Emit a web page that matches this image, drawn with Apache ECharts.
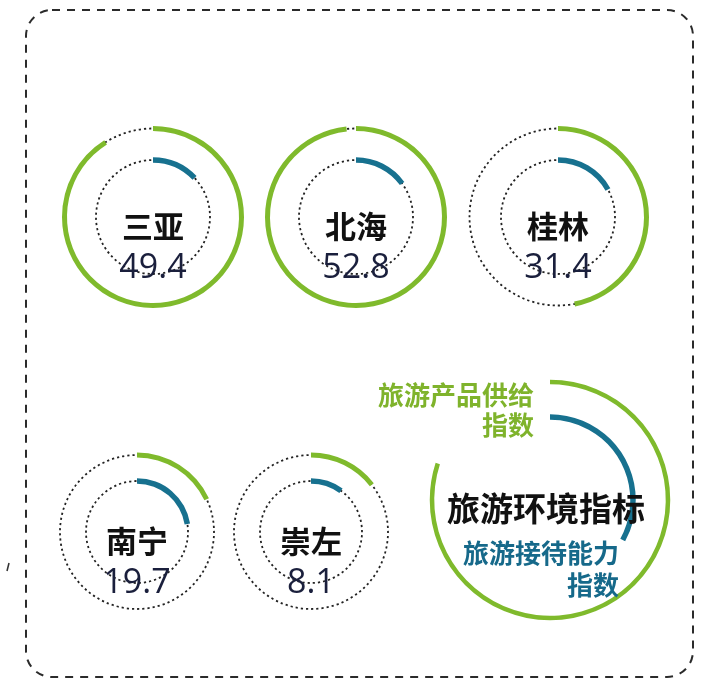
<!DOCTYPE html>
<html>
<head>
<meta charset="utf-8">
<script src="https://cdn.jsdelivr.net/npm/echarts@6/dist/echarts.min.js"></script>
<style>
  html, body { margin: 0; padding: 0; background: #fff; }
  #chart { width: 718px; height: 684px; }
</style>
</head>
<body>
<div id="chart"></div>
<script>
// data
var cities = ['三亚', '北海', '桂林', '南宁', '崇左'];
var scores = [49.4, 52.8, 31.4, 19.7, 8.1];
// share of the full ring (percent) covered by each arc
var supplyPct = [91, 98.3, 47, 18, 14.5];
var receptionPct = [13, 15, 17, 22.5, 10];
// legend ring
var legendSupplyPct = 80;
var legendReceptionPct = 33;

// layout: ring centres and radii (px)
var centers = [[153, 217], [356, 217], [558, 217], [137, 532], [311, 532]];
var outerR = [88.5, 88.5, 88.5, 77, 77];
var innerR = [57, 57, 57, 51, 51];

var GREEN = '#7fba2c';
var BLUE = '#17718f';
var DOT = '#222';

function dotted(center, r) {
  return {
    type: 'pie',
    center: center,
    radius: [0, r],
    silent: true,
    animation: false,
    z: 1,
    label: { show: false },
    labelLine: { show: false },
    itemStyle: {
      color: 'rgba(0,0,0,0)',
      borderColor: DOT,
      borderWidth: 1.8,
      borderType: [2.2, 3]
    },
    data: [{ value: 1 }]
  };
}

function arc(center, r, width, value, color, extra) {
  var s = {
    type: 'gauge',
    center: center,
    radius: r + width / 2,
    startAngle: 90,
    endAngle: -270,
    min: 0,
    max: 100,
    silent: true,
    animation: false,
    z: 3,
    pointer: { show: false },
    axisLine: { show: false },
    axisTick: { show: false },
    splitLine: { show: false },
    axisLabel: { show: false },
    progress: { show: true, width: width, roundCap: false, itemStyle: { color: color } },
    title: { show: false },
    detail: { show: false },
    data: [{ value: value }]
  };
  if (extra) {
    for (var k in extra) s[k] = extra[k];
  }
  return s;
}

var series = [];
cities.forEach(function (name, i) {
  var c = centers[i];
  series.push(dotted(c, outerR[i]));
  series.push(dotted(c, innerR[i]));
  series.push(arc(c, outerR[i], 5, supplyPct[i], GREEN));
  series.push(arc(c, innerR[i], 5.5, receptionPct[i], BLUE, {
    data: [{ value: receptionPct[i], name: name }],
    title: {
      show: true,
      offsetCenter: [0, 9],
      fontSize: 31,
      fontWeight: 'bold',
      color: '#111',
      fontFamily: 'Noto Sans CJK SC'
    },
    detail: {
      show: true,
      offsetCenter: [0, 51],
      fontSize: 34,
      fontWeight: 'normal',
      color: '#1a1f3c',
      fontFamily: 'Open Sans',
      formatter: function () { return String(scores[i]); }
    }
  }));
});

// legend ring
series.push(arc([550, 500], 118, 4.5, legendSupplyPct, GREEN));
series.push(arc([550, 500], 83, 5.5, legendReceptionPct, BLUE));

echarts.init(document.getElementById('chart')).setOption({
  backgroundColor: '#fff',
  series: series,
  graphic: [
    {
      type: 'rect',
      shape: { x: 26, y: 10, width: 667, height: 667, r: 26 },
      style: { fill: 'none', stroke: '#2b2b2b', lineWidth: 2, lineDash: [8, 7] },
      silent: true
    },
    {
      type: 'line',
      shape: { x1: 7, y1: 571, x2: 9, y2: 563 },
      style: { stroke: '#333', lineWidth: 1.5 },
      silent: true
    },
    {
      type: 'text',
      x: 534, y: 410,
      style: {
        text: '旅游产品供给\n指数',
        align: 'right', verticalAlign: 'middle',
        font: 'bold 26px "Noto Sans CJK SC"',
        lineHeight: 30,
        fill: '#7fb32c'
      }
    },
    {
      type: 'text',
      x: 546, y: 508,
      style: {
        text: '旅游环境指标',
        align: 'center', verticalAlign: 'middle',
        font: 'bold 33px "Noto Sans CJK SC"',
        fill: '#111'
      },
      z: 10
    },
    {
      type: 'text',
      x: 619, y: 569,
      style: {
        text: '旅游接待能力\n指数',
        align: 'right', verticalAlign: 'middle',
        font: 'bold 26px "Noto Sans CJK SC"',
        lineHeight: 32,
        fill: '#16698a'
      },
      z: 10
    }
  ]
});
</script>
</body>
</html>
